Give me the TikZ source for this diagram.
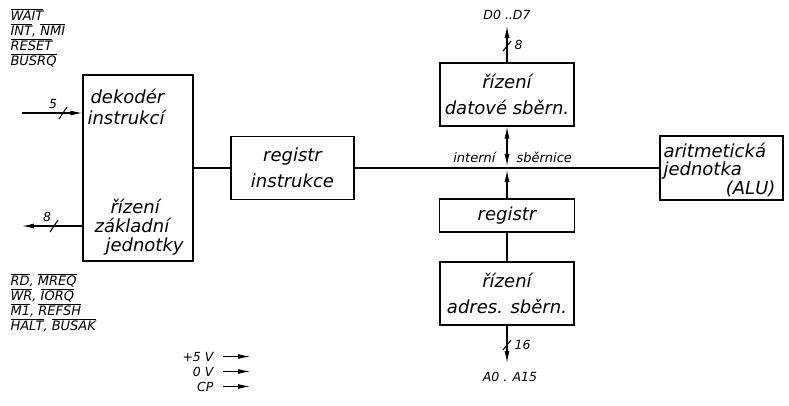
\documentclass[tikz,border=0pt]{standalone}
\usepackage{fontspec}
\setmainfont{DejaVu Sans}
\usetikzlibrary{arrows.meta}
\newcommand\ovl[1]{$\overline{\mbox{#1}}$}
\begin{document}
\begin{tikzpicture}[x=1pt,y=-1pt,line width=1.1pt,
  >={Latex[length=12pt,width=5pt]},
  blk/.style={draw,line width=1.2pt,inner sep=0pt},
  txt/.style={font=\fontsize{18}{26}\selectfont\itshape,align=center},
  btxt/.style={font=\fontsize{18}{26}\selectfont\itshape,anchor=base west,inner sep=0pt},
  sig/.style={font=\fontsize{13}{15}\selectfont\itshape,anchor=base west,inner sep=0pt},
  num/.style={font=\fontsize{12.5}{14}\selectfont\itshape,inner sep=0pt}]
\useasboundingbox (0,0) rectangle (789,405);

% boxes
\node[blk,minimum width=110,minimum height=186] (dec) at (138,168) {};
\node[blk,txt,minimum width=123,minimum height=63] (ri) at (292.5,168) {registr\\instrukce};
\node[blk,txt,minimum width=134,minimum height=63] (dat) at (507,94.5) {řízení\\datové sběrn.};
\node[blk,txt,minimum width=135,minimum height=33] (reg) at (507,215.5) {registr};
\node[blk,txt,minimum width=134,minimum height=63] (adr) at (507,293.5) {řízení\\adres. sběrn.};
\node[blk,minimum width=123,minimum height=64] (alu) at (721.5,168) {};

% decoder texts
\node[btxt] (t1) at (90,103) {dekodér};
\node[btxt] (t2) at (87,124) {instrukcí};
\node[btxt] (t3) at (110,213) {řízení};
\node[btxt] (t4) at (94,232) {základní};
\node[btxt] (t5) at (105,251) {jednotky};

% ALU texts
\node[btxt] (a1) at (663,157) {aritmetická};
\node[btxt] (a2) at (663,175) {jednotka};
\node[btxt,anchor=base east] (a3) at (776,194) {(ALU)};

% internal bus
\draw (dec.east) -- (ri.west);
\draw (ri.east) -- (alu.west);
\node[sig,anchor=base east] (bi) at (496,162) {interní};
\node[sig] (bs) at (516,162) {sběrnice};
\coordinate (bjt) at (507,166);
\coordinate (bjb) at (507,170);
\draw[<->] (dat.south) -- (bjt);
\draw[->] (reg.north) -- (bjb);
\draw (reg.south) -- (adr.north);

% data bus
\node[num,anchor=base] (dd) at (507,19) {D0 ..D7};
\coordinate (dtip) at (507,26);
\draw[->] (dat.north) -- (dtip);
\draw (503,51) -- (511,41);
\node[num,anchor=west] (d8) at (514,45) {8};

% address bus
\coordinate (atip) at (507,363);
\draw[->] (adr.south) -- (atip);
\draw (503,350) -- (511,340);
\node[num,anchor=west] (a16) at (514,345) {16};
\node[num,anchor=base] (aa) at (510,381) {A0 . A15};

% decoder input/output
\coordinate (in5) at (22,113);
\draw[->] (in5) -- (dec.west |- in5);
\draw (59,119) -- (67,107);
\node[num] (n5) at (53,104) {5};
\coordinate (out8) at (22,226);
\draw[->] (dec.west |- out8) -- (out8);
\draw (50,232) -- (58,220);
\node[num] (n8) at (47,217) {8};

% signal labels top
\node[sig] (s1) at (10,20) {\ovl{WAIT}};
\node[sig] (s2) at (10,35) {\ovl{INT}, \ovl{NMI}};
\node[sig] (s3) at (10,50) {\ovl{RESET}};
\node[sig] (s4) at (10,65) {\ovl{BUSRQ}};

% signal labels bottom
\node[sig] (s5) at (10,285) {\ovl{RD}, \ovl{MREQ}};
\node[sig] (s6) at (10,300) {\ovl{WR}, \ovl{IORQ}};
\node[sig] (s7) at (10,315) {\ovl{M1}, \ovl{REFSH}};
\node[sig] (s8) at (10,330) {\ovl{HALT}, \ovl{BUSAK}};

% power
\coordinate (pe) at (250,0);
\node[num,anchor=base east] (p1) at (214,361) {+5 V};
\node[num,anchor=base east] (p2) at (214,376) {0 V};
\node[num,anchor=base east] (p3) at (214,391) {CP};
\draw[->,line width=0.9pt] ([xshift=9pt]p1.east) -- (p1.east -| pe);
\draw[->,line width=0.9pt] ([xshift=9pt]p2.east) -- (p2.east -| pe);
\draw[->,line width=0.9pt] ([xshift=9pt]p3.east) -- (p3.east -| pe);
\end{tikzpicture}
\end{document}
